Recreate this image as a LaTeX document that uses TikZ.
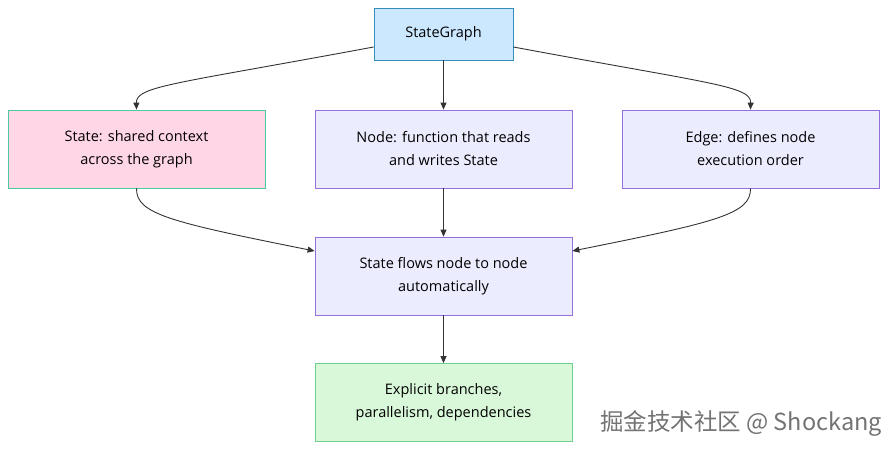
\documentclass[tikz,border=0pt]{standalone}
\usepackage{fontspec}
\setmainfont{Open Sans}
\newfontfamily\cjk{Noto Sans CJK SC}
\usetikzlibrary{arrows.meta}
\definecolor{lav}{HTML}{ECECFF}
\definecolor{lavb}{HTML}{9370DB}
\definecolor{pinkf}{HTML}{FFD6E5}
\definecolor{tealb}{HTML}{4FC9A0}
\definecolor{bluef}{HTML}{CCE8FF}
\definecolor{greenf}{HTML}{D9F7D9}
\definecolor{greenb}{HTML}{6FCF8F}
\definecolor{edgec}{HTML}{333333}
\begin{document}
\begin{tikzpicture}[x=1pt,y=-1pt,
 box/.style={draw,line width=0.8pt,minimum height=78pt,minimum width=257pt,align=center,font=\fontsize{14.5}{23}\selectfont,text=black},
 p/.style={box,fill=lav,draw=lavb},
 a/.style={draw=edgec,line width=0.9pt,-{Triangle[length=7pt,width=6pt]}}]
\useasboundingbox (0,0) rectangle (896,454);
\node[box,fill=bluef,draw=tealb!70!blue,minimum width=139pt,minimum height=52pt] (sg) at (443.5,34) {StateGraph};
\node[box,fill=pinkf,draw=tealb] (st) at (136.5,149) {State: shared context\\across the graph};
\node[p] (nd) at (443.5,149) {Node: function that reads\\and writes State};
\node[p] (ed) at (750.5,149) {Edge: defines node\\execution order};
\node[p] (fl) at (443.5,276) {State flows node to node\\automatically};
\node[box,fill=greenf,draw=greenb] (ex) at (443.5,402.5) {Explicit branches,\\parallelism, dependencies};
\draw[a] ([yshift=-13pt]sg.west) .. controls (175,84) and (136,86) .. (st.north);
\draw[a] (sg.south) -- (nd.north);
\draw[a] ([yshift=-13pt]sg.east) .. controls (712,84) and (751,86) .. (ed.north);
\draw[a] (st.south) .. controls (136,214) and (170,222) .. ([yshift=25pt]fl.west);
\draw[a] (nd.south) -- (fl.north);
\draw[a] (ed.south) .. controls (751,214) and (717,222) .. ([yshift=25pt]fl.east);
\draw[a] (fl.south) -- (ex.north);
\node[anchor=east,text=black!55,font=\cjk\fontsize{23.5}{25}\selectfont,inner sep=0] (wm) at (882,423) {掘金技术社区 @ Shockang};
\end{tikzpicture}
\end{document}
